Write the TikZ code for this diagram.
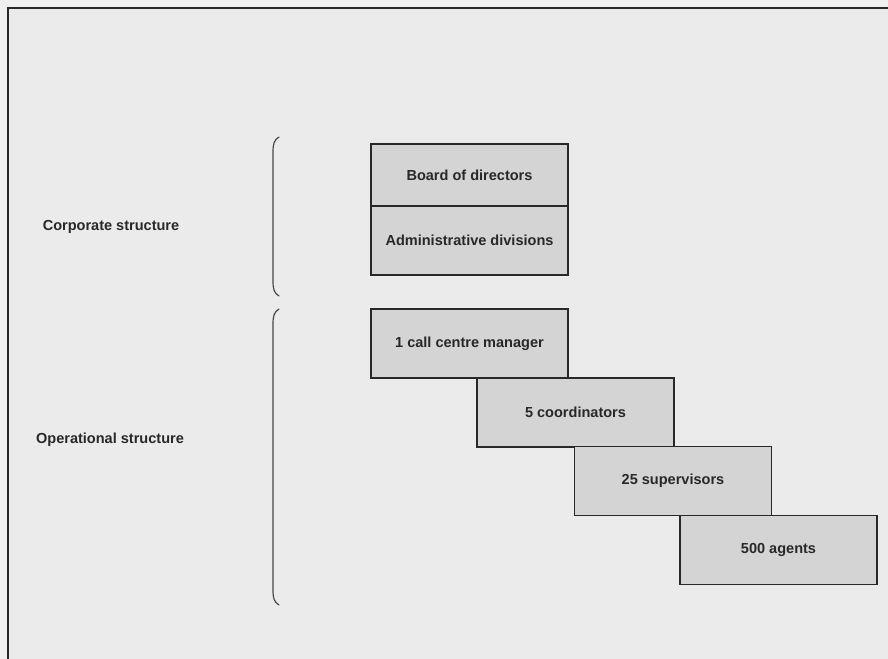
\documentclass[tikz,border=0pt]{standalone}
\usepackage{fontspec}
\setmainfont{Liberation Sans}
\usepackage{xcolor}
\definecolor{paper}{RGB}{240,240,240}
\definecolor{sheet}{RGB}{235,235,235}
\definecolor{boxgray}{RGB}{212,212,212}
\definecolor{ink}{RGB}{40,40,40}

\tikzset{
  level/.style={draw=ink, line width=.9pt, fill=boxgray, inner sep=0pt,
    minimum width=147.75pt, minimum height=51.75pt,
    font=\fontsize{10.9}{13}\selectfont\bfseries, text=ink},
  side/.style={font=\fontsize{10.9}{13}\selectfont\bfseries, text=ink},
  bracket/.style={draw=ink!85, line width=.9pt, line cap=round}
}

\begin{document}
\begin{tikzpicture}[x=.75pt,y=-.75pt]
\useasboundingbox (0,0) rectangle (888,659);
\fill[paper] (0,0) rectangle (888,659);
\fill[sheet] (8,8) rectangle (888,659);
\draw[ink, line width=1.5pt] (8,659)--(8,8)--(888,8);

% corporate part
\node[level, minimum height=46.5pt] (board) at (469.5,175) {Board of directors};
\node[level] (admin) at (469.5,240.5) {Administrative divisions};

% operational part
\node[level] (manager) at (469.5,343.5) {1 call centre manager};
\node[level] (coord) at (575.5,412.5) {5 coordinators};
\node[level] (superv) at (673,481) {25 supervisors};
\node[level] (agents) at (778.5,550) {500 agents};

\node[side] (corplabel) at (111,227) {Corporate structure};
\node[side] (oplabel) at (110,440) {Operational structure};

\draw[bracket] (279,137) .. controls (274,140) and (273,144) .. (273,152)
  -- (273,281) .. controls (273,289) and (274,293) .. (279,296);
\draw[bracket] (279,309) .. controls (274,312) and (273,316) .. (273,324)
  -- (273,590) .. controls (273,598) and (274,602) .. (279,605);
\end{tikzpicture}
\end{document}
